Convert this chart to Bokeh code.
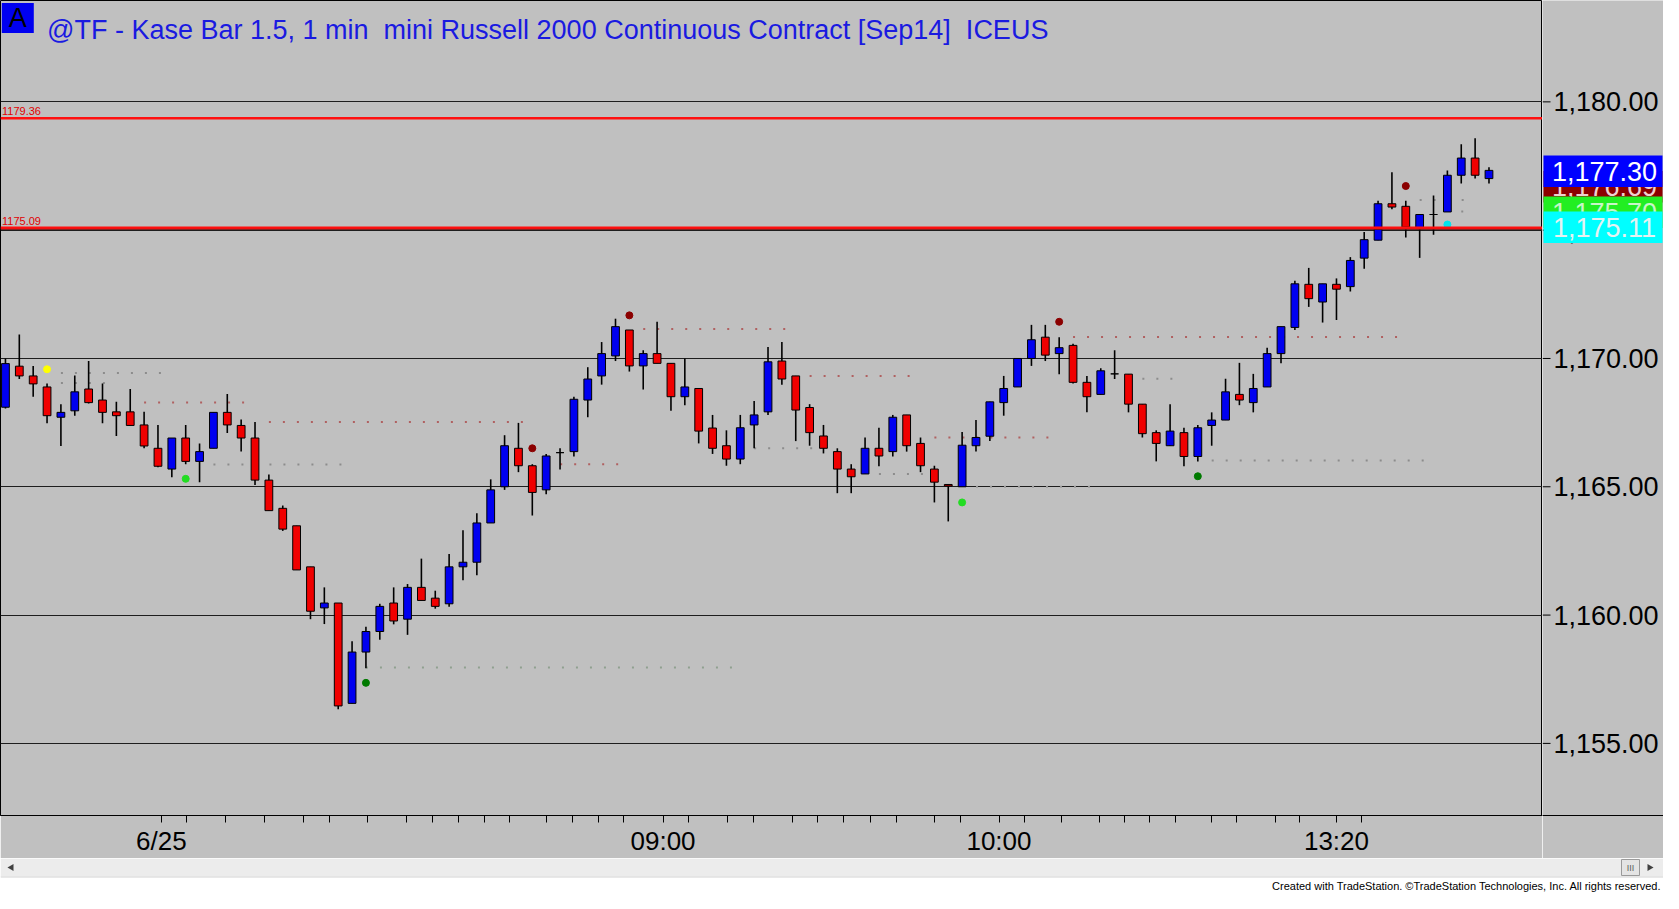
import math
from bokeh.plotting import figure
from bokeh.models import (Range1d, FixedTicker, Span, Label, ColumnDataSource)
from bokeh.layouts import column, row
from bokeh.embed import file_html
from bokeh.resources import INLINE
from bokeh.core.properties import value

# ---------------- data ----------------
opens = [1168.10, 1169.70, 1169.32, 1168.89, 1167.71, 1167.96, 1168.81, 1168.38, 1167.92, 1167.92,
         1167.41, 1166.50, 1165.69, 1166.90, 1165.99, 1166.50, 1167.90, 1167.39, 1166.90, 1165.26,
         1164.16, 1163.48, 1161.88, 1160.28, 1160.47, 1156.56, 1158.56, 1159.36, 1160.47, 1159.84,
         1161.08, 1160.66, 1160.44, 1161.88, 1162.06, 1163.59, 1165.00, 1166.50, 1165.82, 1164.88,
         1166.33, 1166.37, 1168.38, 1169.32, 1170.10, 1171.11, 1169.71, 1170.19, 1169.81, 1168.51,
         1168.83, 1167.29, 1166.60, 1166.08, 1167.41, 1167.92, 1169.90, 1169.32, 1168.09, 1166.98,
         1166.37, 1165.69, 1165.50, 1166.50, 1166.37, 1167.80, 1166.69, 1165.69, 1165.09, 1165.00,
         1166.60, 1166.97, 1168.28, 1168.89, 1170.00, 1170.83, 1170.19, 1170.51, 1169.07, 1168.60,
         1169.40, 1169.39, 1168.22, 1167.11, 1166.60, 1167.11, 1166.18, 1167.39, 1167.60, 1168.60,
         1168.28, 1168.89, 1170.19, 1171.21, 1172.89, 1172.20, 1172.89, 1172.80, 1173.91, 1174.61,
         1176.03, 1175.93, 1175.06, 1175.61, 1175.71, 1177.14, 1177.81, 1177.01]
highs = [1170.00, 1170.93, 1169.71, 1169.02, 1168.22, 1169.34, 1169.90, 1169.02, 1168.31, 1168.81,
         1167.92, 1167.41, 1166.90, 1167.41, 1166.69, 1167.90, 1168.62, 1167.62, 1167.52, 1165.48,
         1164.27, 1163.48, 1161.88, 1161.08, 1160.47, 1158.98, 1159.55, 1160.44, 1161.08, 1161.21,
         1162.20, 1160.95, 1162.38, 1163.31, 1163.97, 1165.29, 1167.01, 1167.49, 1165.88, 1166.28,
         1166.50, 1168.51, 1169.66, 1170.64, 1171.55, 1171.11, 1170.32, 1171.43, 1169.81, 1170.00,
         1168.83, 1167.80, 1167.20, 1167.80, 1168.34, 1170.45, 1170.64, 1169.32, 1168.22, 1167.41,
         1166.50, 1165.88, 1166.92, 1167.30, 1167.80, 1167.80, 1166.92, 1165.82, 1165.09, 1167.13,
         1167.60, 1168.31, 1169.32, 1170.00, 1171.31, 1171.31, 1170.83, 1170.57, 1169.32, 1169.62,
         1170.32, 1169.39, 1168.22, 1167.20, 1168.22, 1167.30, 1167.41, 1167.90, 1169.21, 1169.83,
         1169.40, 1170.42, 1171.24, 1173.03, 1173.53, 1172.91, 1173.12, 1173.95, 1174.93, 1176.15,
         1177.26, 1176.15, 1175.61, 1176.35, 1177.33, 1178.35, 1178.58, 1177.45]
lows = [1168.05, 1169.20, 1168.51, 1167.48, 1166.59, 1167.77, 1168.25, 1167.48, 1166.98, 1167.39,
        1166.50, 1165.76, 1165.37, 1165.88, 1165.18, 1166.50, 1167.10, 1166.37, 1165.07, 1164.07,
        1163.28, 1161.76, 1159.84, 1159.65, 1156.33, 1156.56, 1157.93, 1159.04, 1159.64, 1159.23,
        1160.57, 1160.25, 1160.32, 1161.36, 1161.55, 1163.59, 1164.88, 1165.57, 1163.88, 1164.71,
        1165.67, 1166.18, 1167.71, 1168.98, 1169.90, 1169.49, 1168.79, 1169.81, 1167.96, 1168.18,
        1166.69, 1166.28, 1165.82, 1165.88, 1166.50, 1167.80, 1168.98, 1166.78, 1166.60, 1166.30,
        1164.75, 1164.75, 1165.50, 1165.80, 1166.18, 1166.37, 1165.57, 1164.39, 1163.65, 1165.00,
        1166.37, 1166.78, 1167.77, 1168.89, 1169.71, 1169.90, 1169.39, 1169.02, 1167.90, 1168.60,
        1169.20, 1167.90, 1166.92, 1165.99, 1166.60, 1165.80, 1165.99, 1166.60, 1167.60, 1168.18,
        1167.90, 1168.89, 1169.81, 1171.11, 1172.01, 1171.40, 1171.50, 1172.61, 1173.50, 1174.61,
        1175.82, 1174.71, 1173.92, 1174.82, 1175.71, 1176.82, 1177.01, 1176.82]
closes = [1169.80, 1169.32, 1169.01, 1167.77, 1167.90, 1168.70, 1168.28, 1167.90, 1167.77, 1167.39,
          1166.59, 1165.80, 1166.90, 1165.99, 1166.37, 1167.90, 1167.41, 1166.90, 1165.26, 1164.07,
          1163.35, 1161.76, 1160.15, 1160.47, 1156.46, 1158.56, 1159.36, 1160.34, 1159.77, 1161.08,
          1160.57, 1160.34, 1161.88, 1162.06, 1163.59, 1164.88, 1166.60, 1165.82, 1164.78, 1166.20,
          1166.33, 1168.41, 1169.20, 1170.19, 1171.24, 1169.71, 1170.19, 1169.81, 1168.51, 1168.89,
          1167.17, 1166.50, 1166.08, 1167.30, 1167.80, 1169.87, 1169.20, 1167.99, 1167.11, 1166.50,
          1165.69, 1165.39, 1166.50, 1166.20, 1167.71, 1166.60, 1165.82, 1165.18, 1165.03, 1166.62,
          1166.92, 1168.31, 1168.83, 1170.00, 1170.73, 1170.13, 1170.42, 1169.07, 1168.51, 1169.52,
          1169.40, 1168.22, 1167.07, 1166.69, 1167.17, 1166.18, 1167.30, 1167.60, 1168.70, 1168.38,
          1168.83, 1170.19, 1171.24, 1172.91, 1172.33, 1172.91, 1172.70, 1173.82, 1174.63, 1176.03,
          1175.90, 1175.12, 1175.61, 1175.61, 1177.14, 1177.81, 1177.14, 1177.33]

# Kase signal dots: bar index, price, colour
signal_bar = [3, 13, 26, 38, 45, 69, 76, 86, 101, 104]
signal_price = [1169.58, 1165.31, 1157.36, 1166.50, 1171.68, 1164.39, 1171.43, 1165.41, 1176.72, 1175.22]
signal_color = ["#ffff00", "#22dd22", "#007a00", "#8b0000", "#8b0000", "#22dd22", "#8b0000",
                "#007a00", "#8b0000", "#00e5ee"]

# faint dotted indicator levels: start bar, end bar, level, colour
lvl_start = [4, 4, 10, 19, 15, 26, 39, 46, 58, 54, 67, 63, 70, 77, 82, 87, 102, 105]
lvl_end = [12, 8, 18, 38, 25, 53, 45, 57, 66, 59, 76, 67, 79, 101, 85, 103, 106, 106]
lvl_price = [1169.43, 1169.04, 1168.28, 1167.52, 1165.87, 1157.96, 1165.88, 1171.15, 1169.32,
             1166.50, 1166.92, 1165.50, 1165.00, 1170.84, 1169.21, 1166.02, 1176.18, 1175.73]
lvl_color = ["#8c8c8c", "#8c8c8c", "#b06060", "#b06060", "#8c8c8c", "#8fa08f", "#b06060", "#b06060",
             "#b06060", "#8c8c8c", "#b06060", "#8c8c8c", "#9a9a9a", "#b06060", "#8c8c8c", "#8c8c8c",
             "#8c8c8c", "#8c8c8c"]

# horizontal reference levels
ref_levels = [1179.36, 1175.09]

# price scale ticks
price_ticks = [1155, 1160, 1165, 1170, 1175, 1180]

# time axis ticks (bar positions) and labels
time_ticks = [11.24, 13.09, 15.88, 18.69, 21.48, 23.34, 26.14, 28.93, 30.79, 32.66, 34.52, 36.38,
              39.0, 40.88, 42.74, 44.59, 47.43, 49.29, 52.09, 53.93, 56.74, 58.59, 60.48, 62.38,
              64.24, 67.02, 68.88, 71.66, 73.52, 76.19, 78.93, 80.71, 82.5, 84.36, 87.0, 88.79,
              91.57, 93.36, 96.0, 97.79]
time_labels = {11.24: "6/25", 47.43: "09:00", 71.66: "10:00", 96.0: "13:20"}

# last-value markers on the price scale (drawn bottom layer first)
marker_values = [1176.69, 1175.70, 1175.11, 1177.30]
marker_bg = ["#8c0000", "#22ee22", "#00ffff", "#0000ff"]
marker_fg = ["#f0d0d0", "#c8f5c8", "#e6f2f2", "#ffffff"]

title_text = "@TF - Kase Bar 1.5, 1 min\u00a0\u00a0mini Russell 2000 Continuous Contract [Sep14]\u00a0\u00a0ICEUS"
footer_text = "Created with TradeStation. \u00a9TradeStation Technologies, Inc. All rights reserved."

# ---------------- main chart ----------------
GRAY = "#c0c0c0"
FONT = "Liberation Sans"
W_MAIN = 1542
W_SIDE = 121
H_MAIN = 858
H_FOOT = 34
B_BOTTOM = 42

p = figure(width=W_MAIN, height=H_MAIN,
           x_range=Range1d(-0.357, 110.86), y_range=Range1d(1152.19, 1183.95),
           y_axis_location=None, x_axis_location="below",
           output_backend="svg", toolbar_location=None,
           min_border_left=0, min_border_top=0, min_border_right=0, min_border_bottom=B_BOTTOM)
p.background_fill_color = GRAY
p.border_fill_color = GRAY
p.outline_line_color = "#000000"
p.outline_line_width = 1

p.ygrid.ticker = FixedTicker(ticks=price_ticks)
p.ygrid.grid_line_color = "#1e1e1e"
p.ygrid.grid_line_width = 1
p.xgrid.grid_line_color = None

xa = p.xaxis[0]
xa.ticker = FixedTicker(ticks=time_ticks)
xa.major_label_overrides = {t: time_labels.get(t, "") for t in time_ticks}
xa.major_label_text_font = FONT
xa.major_label_text_font_size = "26px"
xa.major_label_text_color = "#000000"
xa.major_tick_out = 7
xa.major_tick_in = 0
xa.minor_tick_line_color = None
xa.axis_line_color = "#000000"
xa.major_tick_line_color = "#000000"
xa.major_label_standoff = 3

# indicator dotted levels
lv = ColumnDataSource(dict(x0=lvl_start, x1=lvl_end, y=lvl_price, c=lvl_color))
p.segment(x0="x0", y0="y", x1="x1", y1="y", line_color="c", line_width=2,
          line_dash="2 12", source=lv)

# reference lines
for lev in ref_levels:
    p.add_layout(Span(location=lev, dimension="width", line_color="#ff1010", line_width=2.5))
    p.add_layout(Label(x=-0.25, y=lev, text=f"{lev:.2f}", text_font=FONT,
                       text_font_size="11px", text_color="#e00000",
                       text_baseline="bottom", y_offset=3))
p.add_layout(Span(location=ref_levels[1] - 0.06, dimension="width", line_color="#7a1010", line_width=1))

# candles
idx = list(range(len(opens)))
tops = [max(o, c) for o, c in zip(opens, closes)]
bots = [min(o, c) for o, c in zip(opens, closes)]
cols = ["#0000f0" if c > o else ("#f00000" if c < o else "#000000") for o, c in zip(opens, closes)]
src = ColumnDataSource(dict(x=idx, o=opens, h=highs, l=lows, c=closes, top=tops, bot=bots, col=cols))
p.segment(x0="x", y0="l", x1="x", y1="h", line_color="#000000", line_width=1.6, source=src)
p.vbar(x="x", top="top", bottom="bot", width=0.56, fill_color="col", line_color="#000000",
       line_width=1, source=src)

# signal dots
sg = ColumnDataSource(dict(x=signal_bar, y=signal_price, c=signal_color))
p.scatter(x="x", y="y", size=7, fill_color="c", line_color="c", marker="circle", source=sg)

# title
p.add_layout(Label(x=0.89, y=1183.27, text="A", text_font=FONT, text_font_size="27px",
                   text_color="#000000", text_align="center", text_baseline="middle",
                   background_fill_color="#0000f0", padding=(7, 0)))
p.add_layout(Label(x=3.0, y=1182.80, text=title_text, text_font=FONT,
                   text_font_size="27px", text_color="#1a1ae0", text_baseline="alphabetic"))

# ---------------- price scale panel ----------------
ps = figure(width=W_SIDE, height=H_MAIN, x_range=Range1d(0, W_SIDE), y_range=p.y_range,
            x_axis_location="below", y_axis_location=None,
            output_backend="svg", toolbar_location=None,
            min_border_left=0, min_border_top=0, min_border_right=0, min_border_bottom=B_BOTTOM)
ps.background_fill_color = GRAY
ps.border_fill_color = GRAY
ps.outline_line_color = None
ps.grid.visible = False
xs = ps.xaxis[0]
xs.ticker = FixedTicker(ticks=[])
xs.axis_line_color = "#000000"
xs.minor_tick_line_color = None
xs.major_tick_line_color = None

tick_src = ColumnDataSource(dict(y=price_ticks, t=[f"{v:,.2f}" for v in price_ticks]))
ps.segment(x0=0, y0="y", x1=8, y1="y", line_color="#000000", line_width=1, source=tick_src)
ps.text(x=11, y="y", text="t", source=tick_src, text_align="left", text_baseline="middle",
        text_font=value(FONT), text_font_size="27px", text_color="#000000")

for v, bg, fg in zip(marker_values, marker_bg, marker_fg):
    ms = ColumnDataSource(dict(y=[v], t=[f"{v:,.2f}"]))
    ps.rect(x=60.5, y="y", width=119, height=31.5, height_units="screen",
            fill_color=bg, line_color=None, source=ms)
    ps.text(x=62, y="y", text="t", source=ms, text_align="center", text_baseline="middle",
            text_font=value(FONT), text_font_size="27px", text_color=fg)

# ---------------- scrollbar + footer strip ----------------
W = W_MAIN + W_SIDE
f = figure(width=W, height=H_FOOT, x_range=Range1d(0, W), y_range=Range1d(0, H_FOOT),
           x_axis_location=None, y_axis_location=None, output_backend="svg",
           toolbar_location=None, min_border=0)
f.grid.visible = False
f.outline_line_color = None
f.background_fill_color = "#ffffff"
f.border_fill_color = "#ffffff"
f.quad(left=0, right=W, bottom=15, top=H_FOOT, fill_color="#ececec", line_color=None)
f.segment(x0=0, y0=15.5, x1=W, y1=15.5, line_color="#dcdcdc", line_width=1)
f.scatter(x=11, y=25, marker="triangle", angle=math.pi / 2, size=7,
          fill_color="#404040", line_color=None)
f.scatter(x=1649, y=25, marker="triangle", angle=-math.pi / 2, size=7,
          fill_color="#404040", line_color=None)
f.quad(left=1621, right=1639, bottom=17, top=33, fill_color="#e4e4e4", line_color="#9a9a9a")
f.text(x=[1630], y=[25], text=["III"], text_align="center", text_baseline="middle",
       text_font=value(FONT), text_font_size="9px", text_color="#606060")
f.text(x=[1661], y=[1], text=[footer_text], text_align="right", text_baseline="bottom",
       text_font=value(FONT), text_font_size="11px", text_color="#000000")

layout = column(row(p, ps, spacing=0), f, spacing=0)
open("out.html", "w").write(file_html(layout, INLINE))
